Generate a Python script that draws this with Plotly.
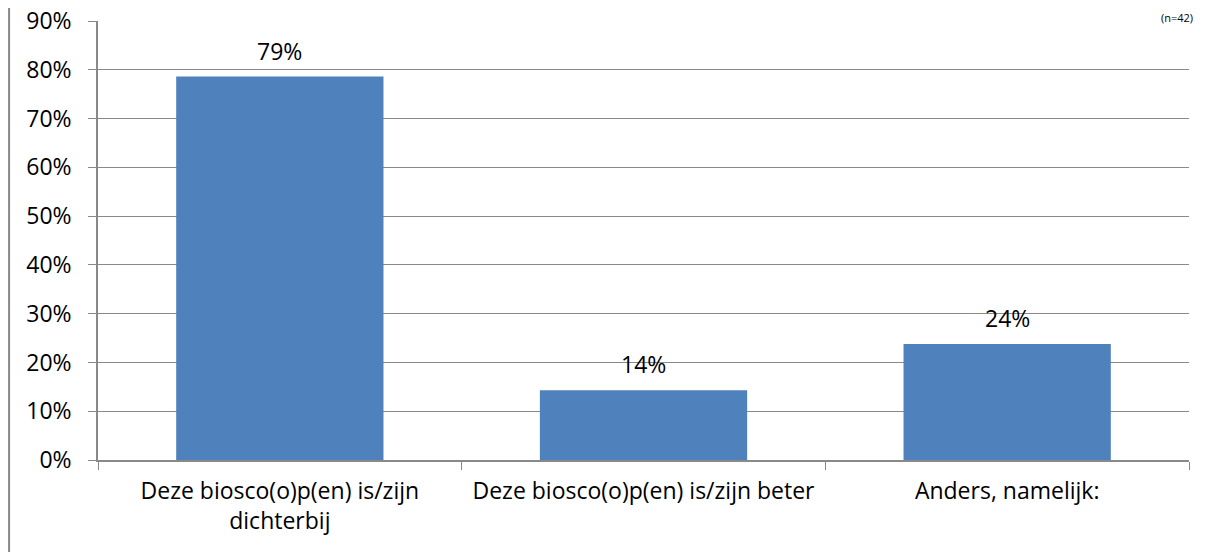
import plotly.graph_objects as go

categories = ["Deze biosco(o)p(en) is/zijn<br>dichterbij", "Deze biosco(o)p(en) is/zijn beter", "Anders, namelijk:"]
values = [0.786, 0.143, 0.238]
labels = ["79%", "14%", "24%"]
tick_vals = [0, 0.1, 0.2, 0.3, 0.4, 0.5, 0.6, 0.7, 0.8, 0.9]
tick_text = ["0%", "10%", "20%", "30%", "40%", "50%", "60%", "70%", "80%", "90%"]
note = "(n=42)"

FONT = "Open Sans, Lato, sans-serif"
FS = 23
GRAY = "#898989"

fig = go.Figure(go.Bar(x=categories, y=values, marker=dict(color="#4F81BD", line=dict(width=0)), hoverinfo="skip"))

for c, v, t in zip(categories, values, labels):
    fig.add_annotation(x=c, y=v, text=t, showarrow=False, yanchor="bottom", yshift=8,
                       font=dict(family=FONT, size=FS, color="#000000"))

fig.add_annotation(xref="paper", yref="paper", x=1.0, y=1.0296, xanchor="right", yanchor="top",
                   xshift=6, yshift=0, text=note, showarrow=False,
                   font=dict(family=FONT, size=11, color="#000000"))

fig.add_shape(type="line", xref="paper", yref="paper", x0=-0.0815, x1=-0.0815, y0=-0.3, y1=1.1,
              line=dict(color=GRAY, width=2))

fig.update_layout(
    width=1210, height=552,
    margin=dict(l=90, r=29, t=13, b=100, autoexpand=False),
    plot_bgcolor="white", paper_bgcolor="white",
    bargap=0.43, showlegend=False,
    font=dict(family=FONT, size=FS, color="#000000"),
    xaxis=dict(type="category", tickson="boundaries", ticks="outside", ticklen=8, tickcolor=GRAY,
               showline=True, linecolor=GRAY, linewidth=1.5, showgrid=False, automargin=False,
               ticklabelstandoff=10, tickfont=dict(family=FONT, size=FS)),
    yaxis=dict(range=[0, 0.9], tickvals=tick_vals, ticktext=tick_text, ticks="outside", ticklen=8,
               tickcolor=GRAY, showline=True, linecolor=GRAY, linewidth=1.5, automargin=False,
               showgrid=True, gridcolor=GRAY, gridwidth=1, zeroline=False,
               ticklabeloverflow="allow",
               ticklabelstandoff=12, tickfont=dict(family=FONT, size=FS)),
)

fig.write_html("out.html")
